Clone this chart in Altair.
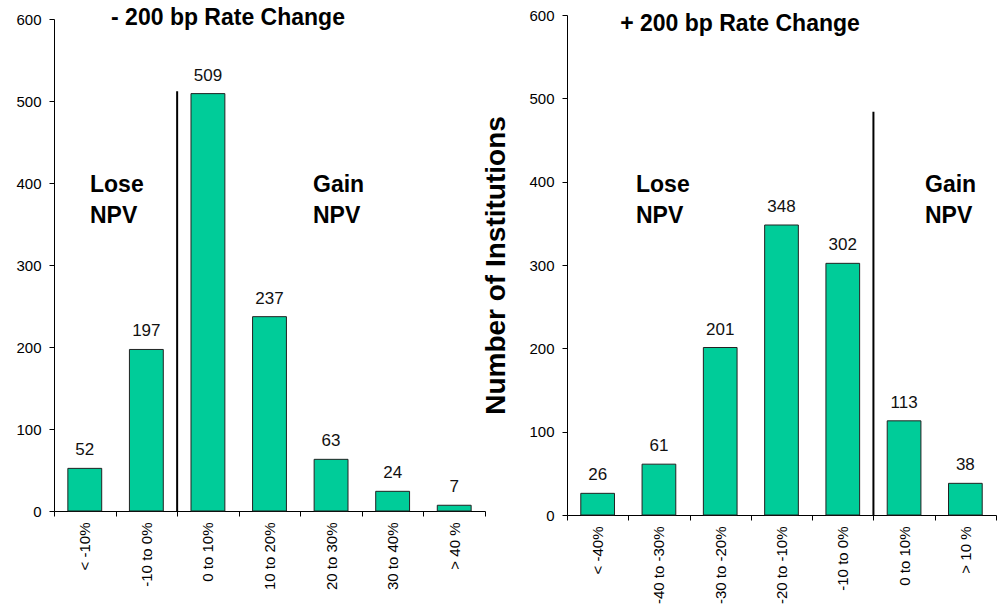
import altair as alt
import pandas as pd

# -200 bp scenario: change in NPV buckets and institution counts
down_buckets = ["< -10%", "-10 to 0%", "0 to 10%", "10 to 20%", "20 to 30%", "30 to 40%", "> 40 %"]
down_counts = [52, 197, 509, 237, 63, 24, 7]

# +200 bp scenario
up_buckets = ["< -40%", "-40 to -30%", "-30 to -20%", "-20 to -10%", "-10 to 0%", "0 to 10%", "> 10 %"]
up_counts = [26, 61, 201, 348, 302, 113, 38]

# divider between losing and gaining NPV (bucket where gains start, top of line)
down_divider = ("0 to 10%", 512)
up_divider = ("0 to 10%", 484)

FONT = "Liberation Sans"
BAR_COLOR = "#00CC99"
Y_TICKS = [0, 100, 200, 300, 400, 500, 600]


def panel(buckets, counts, divider, title, width, height, y_title,
          lose_xy, gain_xy, title_xy):
    df = pd.DataFrame({"bucket": buckets, "count": counts})
    x_enc = alt.X(
        "bucket:N",
        sort=buckets,
        scale=alt.Scale(paddingInner=0, paddingOuter=0),
        axis=alt.Axis(
            title=None,
            labelAngle=270,
            labelFontSize=15,
            labelPadding=6,
            tickBand="extent",
            tickSize=5,
        ),
    )
    if y_title:
        y_axis = alt.Axis(
            values=Y_TICKS,
            labelFontSize=15,
            labelPadding=8,
            tickSize=5,
            grid=False,
            title=y_title,
            titleFontSize=28,
            titleFont=FONT,
            titleFontWeight="bold",
            titlePadding=18,
        )
    else:
        y_axis = alt.Axis(
            values=Y_TICKS,
            labelFontSize=15,
            labelPadding=8,
            tickSize=5,
            grid=False,
            title=None,
        )
    y_enc = alt.Y("count:Q", scale=alt.Scale(domain=[0, 600]), axis=y_axis)

    base = alt.Chart(df)
    bars = base.mark_bar(
        color=BAR_COLOR, stroke="#222222", strokeWidth=1,
        width=alt.RelativeBandSize(0.55),
    ).encode(x=x_enc, y=y_enc)

    values = base.mark_text(
        font=FONT, fontSize=17, baseline="alphabetic", dy=-13, color="#111111"
    ).encode(x=alt.X("bucket:N", sort=buckets), y="count:Q", text="count:Q")

    div_df = pd.DataFrame({"bucket": [divider[0]], "top": [divider[1]]})
    rule = alt.Chart(div_df).mark_rule(color="black", strokeWidth=2).encode(
        x=alt.X("bucket:N", sort=buckets, bandPosition=0),
        y="top:Q",
        y2=alt.datum(0),
    )

    def note(text, xy, size=23, align="left"):
        return alt.Chart(pd.DataFrame({"note": [text]})).mark_text(
            font=FONT, fontSize=size, fontWeight="bold", align=align,
            baseline="alphabetic", lineBreak="\n", lineHeight=31, color="black",
        ).encode(text="note:N", x=alt.value(xy[0]), y=alt.value(xy[1]))

    lose = note("Lose\nNPV", lose_xy)
    gain = note("Gain\nNPV", gain_xy)
    head = note(title, title_xy, size=23, align="center")

    return alt.layer(bars, values, rule, lose, gain, head).properties(
        width=width, height=height
    )


left = panel(down_buckets, down_counts, down_divider, "- 200 bp Rate Change",
             431, 492, None, (36, 173), (259, 173), (174, 6))
right = panel(up_buckets, up_counts, up_divider, "+ 200 bp Rate Change",
              429, 500, "Number of Institutions", (69, 177), (358, 177), (173, 16))

chart = alt.hconcat(left, right, spacing=82, bounds="flush", center=True).properties(
    padding={"left": 15, "top": 7, "right": 0, "bottom": 0}
).configure_axis(
    domainColor="black",
    tickColor="black",
    labelColor="black",
    labelFont=FONT,
    titleColor="black",
    domainWidth=1,
).configure_view(stroke=None)

chart.save("out.html", embed_options={"renderer": "svg", "actions": False})
